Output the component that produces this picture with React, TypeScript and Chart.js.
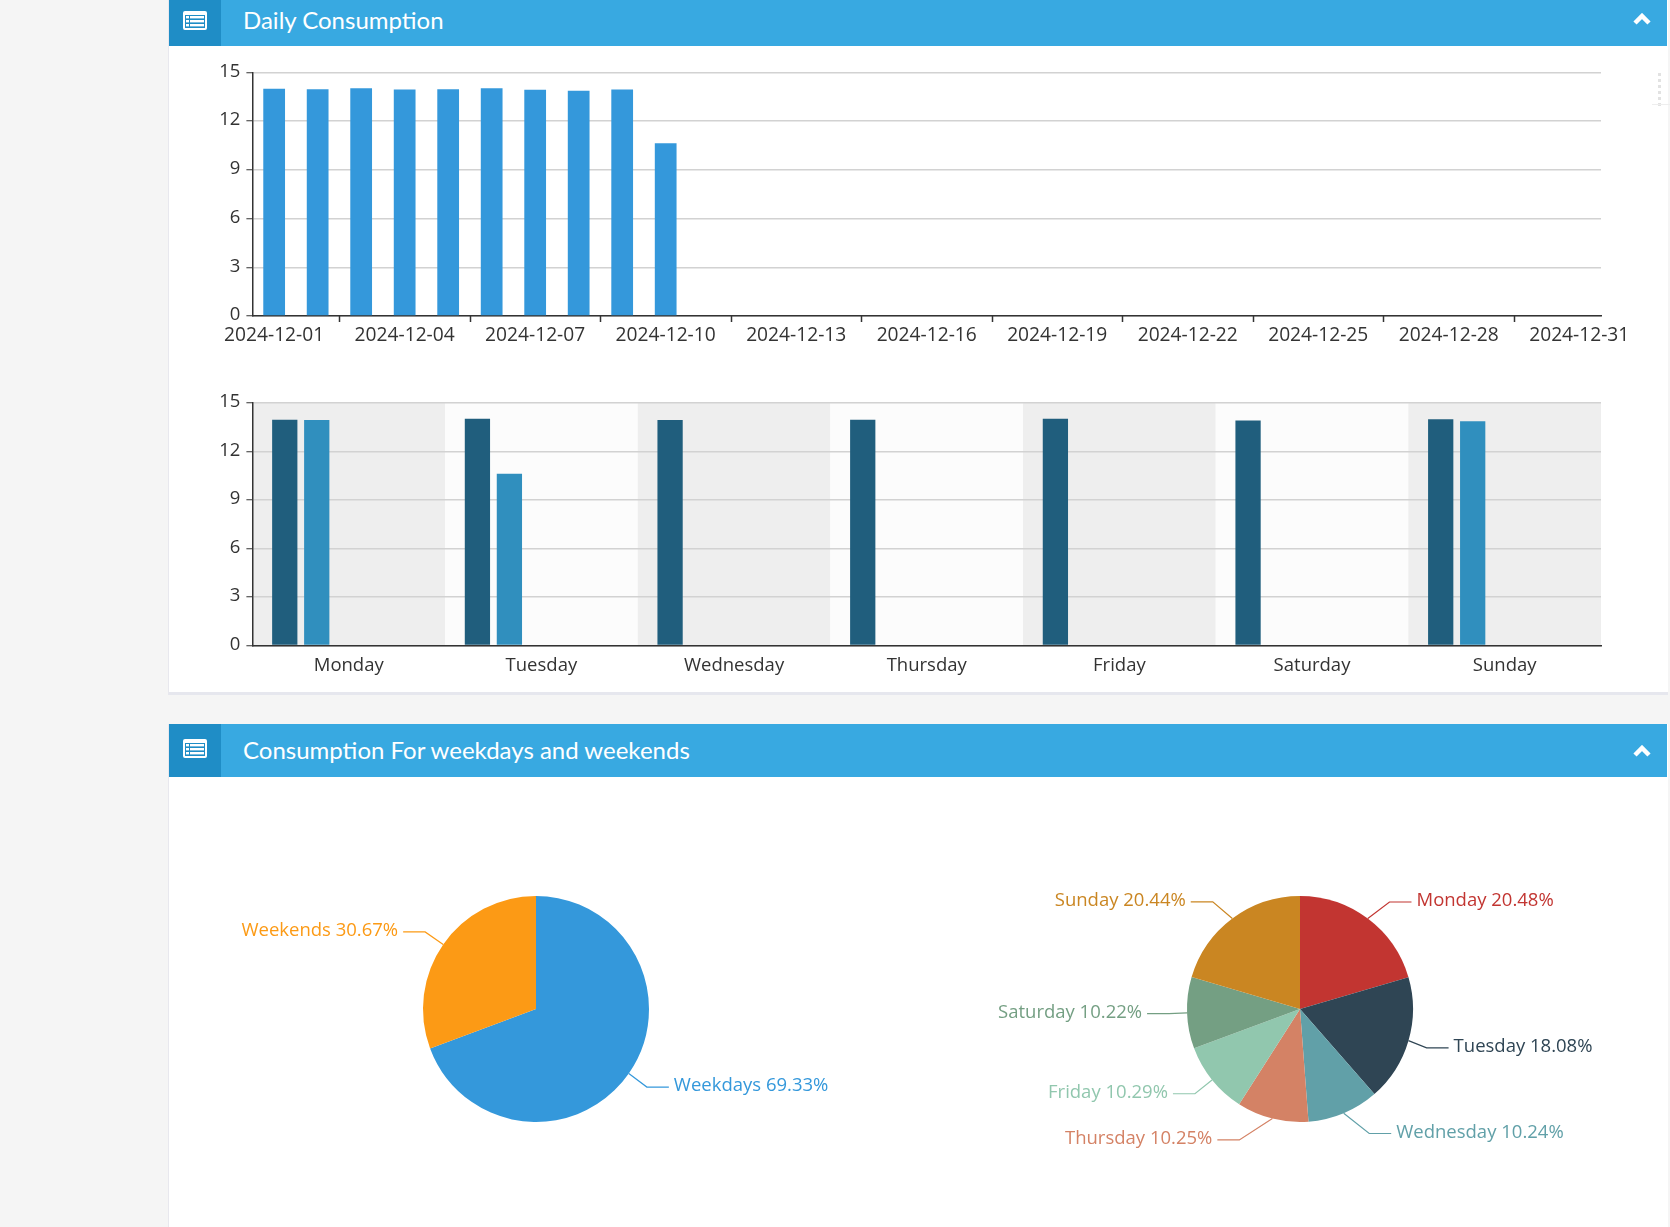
import React, { useEffect, useRef } from "react";
import { Chart, registerables } from "chart.js";

Chart.register(...registerables);

const FONT = "'Open Sans', sans-serif";
const TEXT = "#333333";

const dates = Array.from({ length: 31 }, (_, i) => `2024-12-${String(i + 1).padStart(2, "0")}`);
const dailyValues = [14.0, 13.97, 14.03, 13.95, 13.97, 14.03, 13.93, 13.87, 13.95, 10.63];

const weekdays = ["Monday", "Tuesday", "Wednesday", "Thursday", "Friday", "Saturday", "Sunday"];
const week1 = [13.97, 14.03, 13.95, 13.97, 14.03, 13.93, 14.0];
const week2 = [13.95, 10.63, null, null, null, null, 13.87];
const weekColors = ["#205e7d", "#308fbe"];

const splitNames = ["Weekdays", "Weekends"];
const splitShares = [69.33, 30.67];
const splitColors = ["#3498db", "#fc9a15"];
const dayShares = [20.48, 18.08, 10.24, 10.25, 10.29, 10.22, 20.44];
const dayColors = ["#c23531", "#2f4554", "#61a0a8", "#d48265", "#91c7ae", "#749f83", "#ca8622"];

const yAxis = (): any => ({
  min: 0,
  max: 15,
  afterFit: (s: any) => { s.width = 83.4; },
  afterBuildTicks: (s: any) => { s.ticks = [0, 3, 6, 9, 12, 15].map((value) => ({ value })); },
  border: { color: TEXT, width: 1.5 },
  grid: { color: "#d2d2d2", lineWidth: 1.5, tickColor: TEXT, tickLength: 6, tickWidth: 1 },
  ticks: { color: TEXT, font: { family: FONT, size: 18.5 }, padding: 6, labelOffset: -1 },
});

const bands = {
  id: "bands",
  beforeDraw(chart: any) {
    const { ctx, chartArea: a, scales } = chart;
    const x = scales.x;
    const w = x.width / x.ticks.length;
    x.ticks.forEach((_: any, i: number) => {
      ctx.fillStyle = i % 2 === 0 ? "#eeeeee" : "#fcfcfc";
      ctx.fillRect(x.getPixelForTick(i) - w / 2, a.top, w, a.height);
    });
  },
};

// Tick marks on the category boundary, every third date (unlabelled ticks are dropped by the scale).
const dateTicks = {
  id: "dateTicks",
  afterDraw(chart: any) {
    const { ctx, chartArea: a, scales } = chart;
    const x = scales.x;
    const w = x.width / dates.length;
    ctx.save();
    ctx.strokeStyle = TEXT;
    ctx.lineWidth = 1.5;
    dates.forEach((_: string, i: number) => {
      if (i % 3 !== 2) return;
      const px = Math.round(x.getPixelForValue(i) - w / 2) + 0.5;
      ctx.beginPath();
      ctx.moveTo(px, a.bottom);
      ctx.lineTo(px, a.bottom + 6);
      ctx.stroke();
    });
    ctx.restore();
  },
};

// Per-slice nudges of the leader-line elbow, as the original's label layout moved them.
const pieLabels = (names: string[], nudges: number[][]) => ({
  id: "pieLabels",
  afterDatasetsDraw(chart: any) {
    const { ctx } = chart;
    const arcs = chart.getDatasetMeta(0).data;
    const shares = chart.data.datasets[0].data;
    const colors = chart.data.datasets[0].backgroundColor;
    arcs.forEach((arc: any, i: number) => {
      const mid = (arc.startAngle + arc.endAngle) / 2;
      const dx = Math.cos(mid);
      const dy = Math.sin(mid);
      const r = arc.outerRadius;
      const [nx, ny] = nudges[i] || [0, 0];
      const ex = arc.x + (r + 22) * dx + nx;
      const ey = arc.y + (r + 22) * dy + ny;
      const side = dx < 0 ? -1 : 1;
      const tx = ex + side * 22;
      ctx.save();
      ctx.strokeStyle = colors[i];
      ctx.lineWidth = 1.2;
      ctx.beginPath();
      ctx.moveTo(arc.x + r * dx, arc.y + r * dy);
      ctx.lineTo(ex, ey);
      ctx.lineTo(tx, ey);
      ctx.stroke();
      ctx.fillStyle = colors[i];
      ctx.font = `18.5px ${FONT}`;
      ctx.textBaseline = "middle";
      ctx.textAlign = side < 0 ? "right" : "left";
      ctx.fillText(`${names[i]} ${shares[i]}%`, tx + side * 5, ey - 1);
      ctx.restore();
    });
  },
});

function useChart(build: () => any) {
  const ref = useRef<HTMLCanvasElement>(null);
  useEffect(() => {
    const chart = new Chart(ref.current!, build());
    return () => chart.destroy();
  }, []);
  return ref;
}

const base = { responsive: false, animation: false as const };
const noChrome = { legend: { display: false }, tooltip: { enabled: false }, title: { display: false } };

const dailyConfig = () => ({
  type: "bar",
  data: {
    labels: dates,
    datasets: [{ data: dailyValues, backgroundColor: "#3498db", categoryPercentage: 0.5, barPercentage: 1 }],
  },
  options: {
    ...base,
    layout: { padding: { top: 26.4, right: 66, left: 0, bottom: 0 } },
    plugins: noChrome,
    scales: {
      y: yAxis(),
      x: {
        afterFit: (s: any) => { s.height = 70; },
        border: { color: TEXT, width: 1.5 },
        grid: { offset: true, drawOnChartArea: false, tickLength: 6, tickColor: "transparent" },
        ticks: {
          autoSkip: false,
          maxRotation: 0,
          minRotation: 0,
          color: TEXT,
          font: { family: FONT, size: 19.2 },
          padding: 2,
          callback: (_: any, i: number) => (i % 3 === 0 ? dates[i] : null),
        },
      },
    },
  },
  plugins: [dateTicks],
});

const weekConfig = () => ({
  type: "bar",
  data: {
    labels: weekdays,
    datasets: [week1, week2, [], [], []].map((data, i) => ({
      data,
      backgroundColor: weekColors[i] || "#308fbe",
      categoryPercentage: 0.83,
      barPercentage: 0.79,
    })),
  },
  options: {
    ...base,
    layout: { padding: { top: 16.6, right: 66, left: 0, bottom: 0 } },
    plugins: noChrome,
    scales: {
      y: yAxis(),
      x: {
        afterFit: (s: any) => { s.height = 46.6; },
        border: { color: TEXT, width: 1.5 },
        grid: { drawOnChartArea: false, drawTicks: false },
        ticks: { color: TEXT, font: { family: FONT, size: 18.5 }, padding: 9 },
      },
    },
  },
  plugins: [bands],
});

const pieConfig = (names: string[], shares: number[], colors: string[], nudges: number[][]) => () => ({
  type: "pie",
  data: {
    labels: names,
    datasets: [{ data: shares, backgroundColor: colors, borderWidth: 0, radius: 113 }],
  },
  options: { ...base, plugins: noChrome },
  plugins: [pieLabels(names, nudges)],
});

const Header = ({ top, height, title, textHeight, chevronTop }: { top: number; height: number; title: string; textHeight: number; chevronTop: number }) => (
  <div style={{ position: "absolute", left: 169, top, width: 1498, height, background: "#38a9e1" }}>
    <div style={{ position: "absolute", left: 0, top: 0, width: 52, height, background: "#1f8dc6" }} />
    <svg style={{ position: "absolute", left: 14, top: height / 2 - 12, width: 24, height: 19 }} viewBox="0 0 24 19">
      <rect x="0" y="0" width="24" height="19" rx="2" fill="#fff" />
      <rect x="2" y="4" width="20" height="13" fill="#1f8dc6" />
      {[5, 9, 13].map((y) => (
        <g key={y}>
          <rect x="3" y={y} width="3" height="2.4" fill="#fff" />
          <rect x="7" y={y} width="14" height="2.4" fill="#fff" />
        </g>
      ))}
    </svg>
    <div
      style={{
        position: "absolute",
        left: 74,
        top: 0,
        lineHeight: `${textHeight}px`,
        color: "#fff",
        fontFamily: "Lato, sans-serif",
        fontSize: 24,
        whiteSpace: "nowrap",
      }}
    >
      {title}
    </div>
    <svg style={{ position: "absolute", left: 1464, top: chevronTop, width: 18, height: 12 }} viewBox="0 0 18 12">
      <path d="M2 10 L9 3 L16 10" fill="none" stroke="#fff" strokeWidth="4.5" />
    </svg>
  </div>
);

export default function App() {
  const daily = useChart(dailyConfig);
  const week = useChart(weekConfig);
  const split = useChart(pieConfig(splitNames, splitShares, splitColors, [[0, 1], [0, 0]]));
  const days = useChart(pieConfig(weekdays, dayShares, dayColors, [[8.5, 1], [-3, 1], [17, 0], [-27.7, 0], [0, 0], [4, 0], [-6.4, 1]]));
  const abs = (left: number, top: number) => ({ position: "absolute" as const, left, top });
  return (
    <div style={{ position: "fixed", left: 0, top: 0, width: 1670, height: 1227, overflow: "hidden", background: "#f5f5f5" }}>
      <div style={{ ...abs(168, 0), width: 1499, height: 692, background: "#fff", borderLeft: "1px solid #e8e8ee", borderBottom: "3px solid #e6e7ee", boxSizing: "content-box" }} />
      <div style={{ ...abs(168, 724), width: 1499, height: 503, background: "#fff", borderLeft: "1px solid #e8e8ee" }} />
      <Header top={0} height={46} textHeight={40} chevronTop={13} title="Daily Consumption" />
      <Header top={724} height={53} textHeight={51} chevronTop={21} title="Consumption For weekdays and weekends" />
      <canvas ref={daily} width={1498} height={340} style={{ ...abs(169, 46), display: "block" }} />
      <canvas ref={week} width={1498} height={306} style={{ ...abs(169, 386), display: "block" }} />
      <canvas ref={split} width={700} height={438} style={{ ...abs(186, 790), display: "block" }} />
      <canvas ref={days} width={700} height={438} style={{ ...abs(950, 790), display: "block" }} />
      {[73, 79, 85, 91, 97, 103].map((y) => (
        <div key={y} style={{ ...abs(1658, y), width: 3, height: 3, background: "#e2e2e2" }} />
      ))}
      <div style={{ ...abs(1652, 104), width: 18, height: 1, background: "#eeeeee" }} />
    </div>
  );
}
